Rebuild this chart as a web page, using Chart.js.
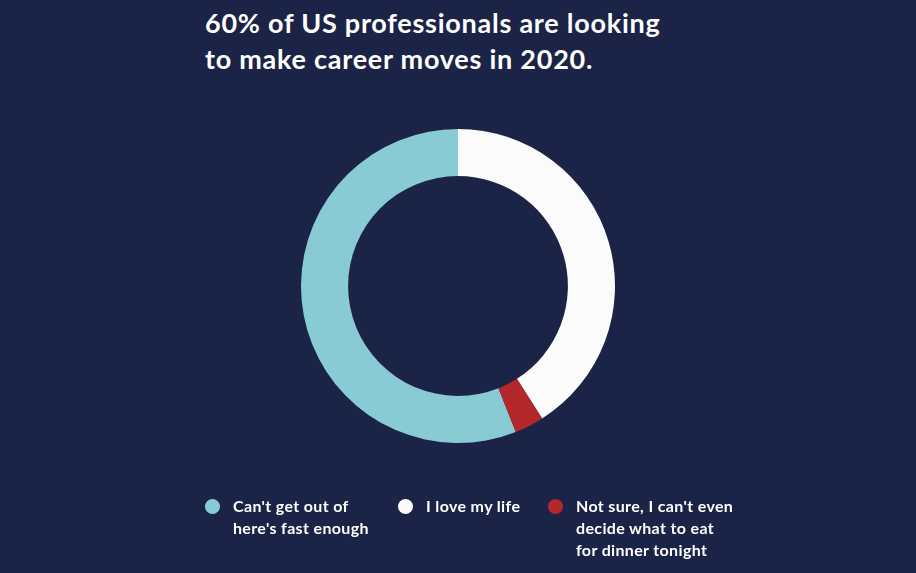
<!DOCTYPE html>
<html>
<head>
<meta charset="utf-8">
<script src="https://cdn.jsdelivr.net/npm/chart.js@4"></script>
<style>
  html, body { margin:0; padding:0; width:916px; height:573px; background:#1b2446; overflow:hidden; }
  body { position:relative; font-family: Lato, "Open Sans", sans-serif; color:#ffffff; }
  #title { position:absolute; left:205px; top:5px; font-size:27px; font-weight:700; line-height:36px; letter-spacing:0.75px; }
  #wrap { position:absolute; left:301px; top:129px; width:314px; height:314px; }
  #legend { position:absolute; left:0; top:0; width:916px; height:573px; }
  .item { position:absolute; top:495px; display:flex; align-items:flex-start; }
  .dot { width:15px; height:15px; border-radius:50%; margin-top:4px; margin-right:13px; flex:none; }
  .txt { font-size:16px; font-weight:700; line-height:22px; letter-spacing:0.35px; }
</style>
</head>
<body>
<div id="title"></div>
<div id="wrap"><canvas id="c" width="314" height="314"></canvas></div>
<div id="legend"></div>
<script>
const titleLines = ["60% of US professionals are looking", "to make career moves in 2020."];
const categories = [
  ["Can't get out of", "here's fast enough"],
  ["I love my life"],
  ["Not sure, I can't even", "decide what to eat", "for dinner tonight"]
];
const values = [56, 41, 3];
const colors = ["#88cbd4", "#fbfbfb", "#b4282b"];
const legendX = [205, 398, 548];

document.getElementById('title').innerHTML = titleLines.join('<br>');

const total = values.reduce((a, b) => a + b, 0);
new Chart(document.getElementById('c'), {
  type: 'doughnut',
  data: {
    labels: categories.map(l => l.join(' ')),
    datasets: [{ data: values, backgroundColor: colors, borderWidth: 0, hoverOffset: 0 }]
  },
  options: {
    responsive: false,
    animation: false,
    cutout: '70%',
    rotation: (1 - values[0] / total) * 360,
    plugins: { legend: { display: false }, tooltip: { enabled: false }, title: { display: false } }
  }
});

const lg = document.getElementById('legend');
categories.forEach((lines, i) => {
  const it = document.createElement('div');
  it.className = 'item';
  it.style.left = legendX[i] + 'px';
  const d = document.createElement('div');
  d.className = 'dot';
  d.style.background = colors[i];
  const t = document.createElement('div');
  t.className = 'txt';
  t.innerHTML = lines.join('<br>');
  it.appendChild(d); it.appendChild(t);
  lg.appendChild(it);
});
</script>
</body>
</html>
